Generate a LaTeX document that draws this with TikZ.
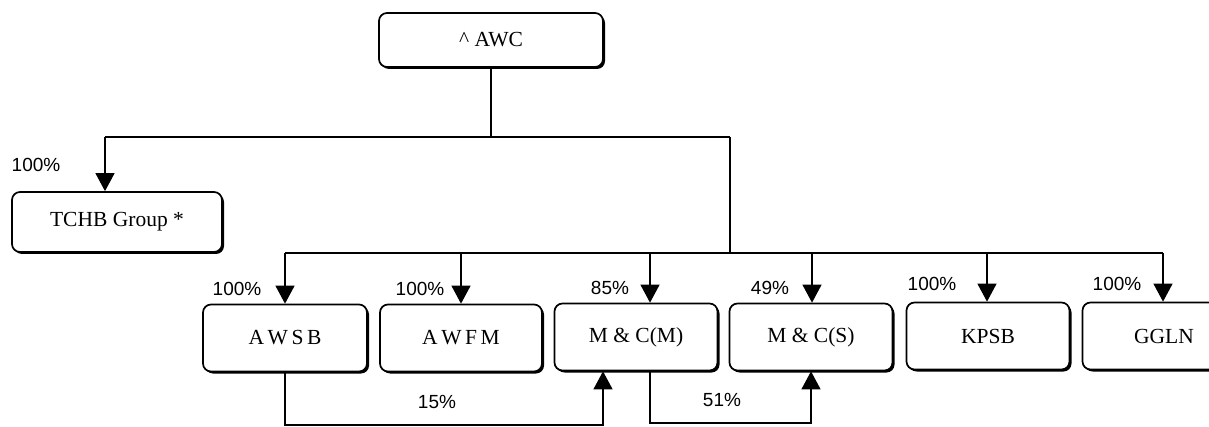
\documentclass[tikz,border=0pt]{standalone}
\usepackage{fontspec}
\setmainfont{Liberation Serif}
\newfontfamily\pctfont{Liberation Sans}
\usetikzlibrary{arrows.meta,shadows}
\begin{document}
\begin{tikzpicture}[x=1pt,y=-1pt,
  box/.style={draw, line width=1.7pt, rounded corners=8pt, fill=white,
    minimum height=67pt, inner sep=0pt,
    drop shadow={shadow xshift=2pt, shadow yshift=-2pt, opacity=1, fill=black},
    font=\fontsize{21.5}{23}\selectfont},
  conn/.style={line width=1.3pt},
  arr/.style={conn, -{Triangle[width=19pt,length=18pt]}},
  pct/.style={font=\pctfont\fontsize{19}{21}\selectfont, inner sep=0pt}]
\useasboundingbox (0,0) rectangle (1209,427);
\clip (0,0) rectangle (1209,427);

% boxes
\node[box, minimum width=224pt, minimum height=54pt] (awc) at (491,40) {\textasciicircum{} AWC};
\node[box, minimum width=210pt, minimum height=60pt] (tchb) at (117,222) {TCHB Group *};
\node[box, minimum width=164pt] (awsb) at (285,338) {A\,W\,S\,B};
\node[box, minimum width=162pt] (awfm) at (461,338) {A\,W\,F\,M};
\node[box, minimum width=163pt] (mcm) at (636,337) {M \& C(M)};
\node[box, minimum width=163pt] (mcs) at (811,337) {M \& C(S)};
\node[box, minimum width=163pt] (kpsb) at (988,336) {KPSB};
\node[box, minimum width=163pt] (ggln) at (1164,336) {GGLN};

% junction coordinates
\coordinate (hL) at (105,137);
\coordinate (hR) at (730,137);
\coordinate (bL) at (285,253);
\coordinate (bR) at (1163,253);
\coordinate (mcmA) at (650,253);
\coordinate (mcsA) at (812,253);
\coordinate (kpsbA) at (987,253);
\coordinate (u15) at (603,425);
\coordinate (d51a) at (650,423);
\coordinate (d51b) at (811,423);

% top connectors
\draw[conn] (awc.south) -- (awc.south |- hL);
\draw[conn] (hR) -- (hL);
\draw[arr] (hL) -- (hL |- tchb.north);
\draw[conn] (hR) -- (hR |- bL);
\draw[conn] (bL) -- (bR);
\draw[arr] (bL) -- (awsb.north);
\draw[arr] (awfm.north |- bL) -- (awfm.north);
\draw[arr] (mcmA) -- (mcmA |- mcm.north);
\draw[arr] (mcsA) -- (mcsA |- mcs.north);
\draw[arr] (kpsbA) -- (kpsbA |- kpsb.north);
\draw[arr] (bR) -- (bR |- ggln.north);

% bottom connectors
\draw[arr] (awsb.south) -- (awsb.south |- u15) -- (u15) -- (u15 |- mcm.south);
\draw[arr] (d51a |- mcm.south) -- (d51a) -- (d51b) -- (d51b |- mcs.south);

% labels
\node[pct] (l0) at (36,165) {100\%};
\node[pct] (l1) at (237,289) {100\%};
\node[pct] (l2) at (420,289) {100\%};
\node[pct] (l3) at (610,288) {85\%};
\node[pct] (l4) at (770,288) {49\%};
\node[pct] (l5) at (932,284) {100\%};
\node[pct] (l6) at (1117,284) {100\%};
\node[pct] (l7) at (437,402) {15\%};
\node[pct] (l8) at (722,400) {51\%};
\end{tikzpicture}
\end{document}
